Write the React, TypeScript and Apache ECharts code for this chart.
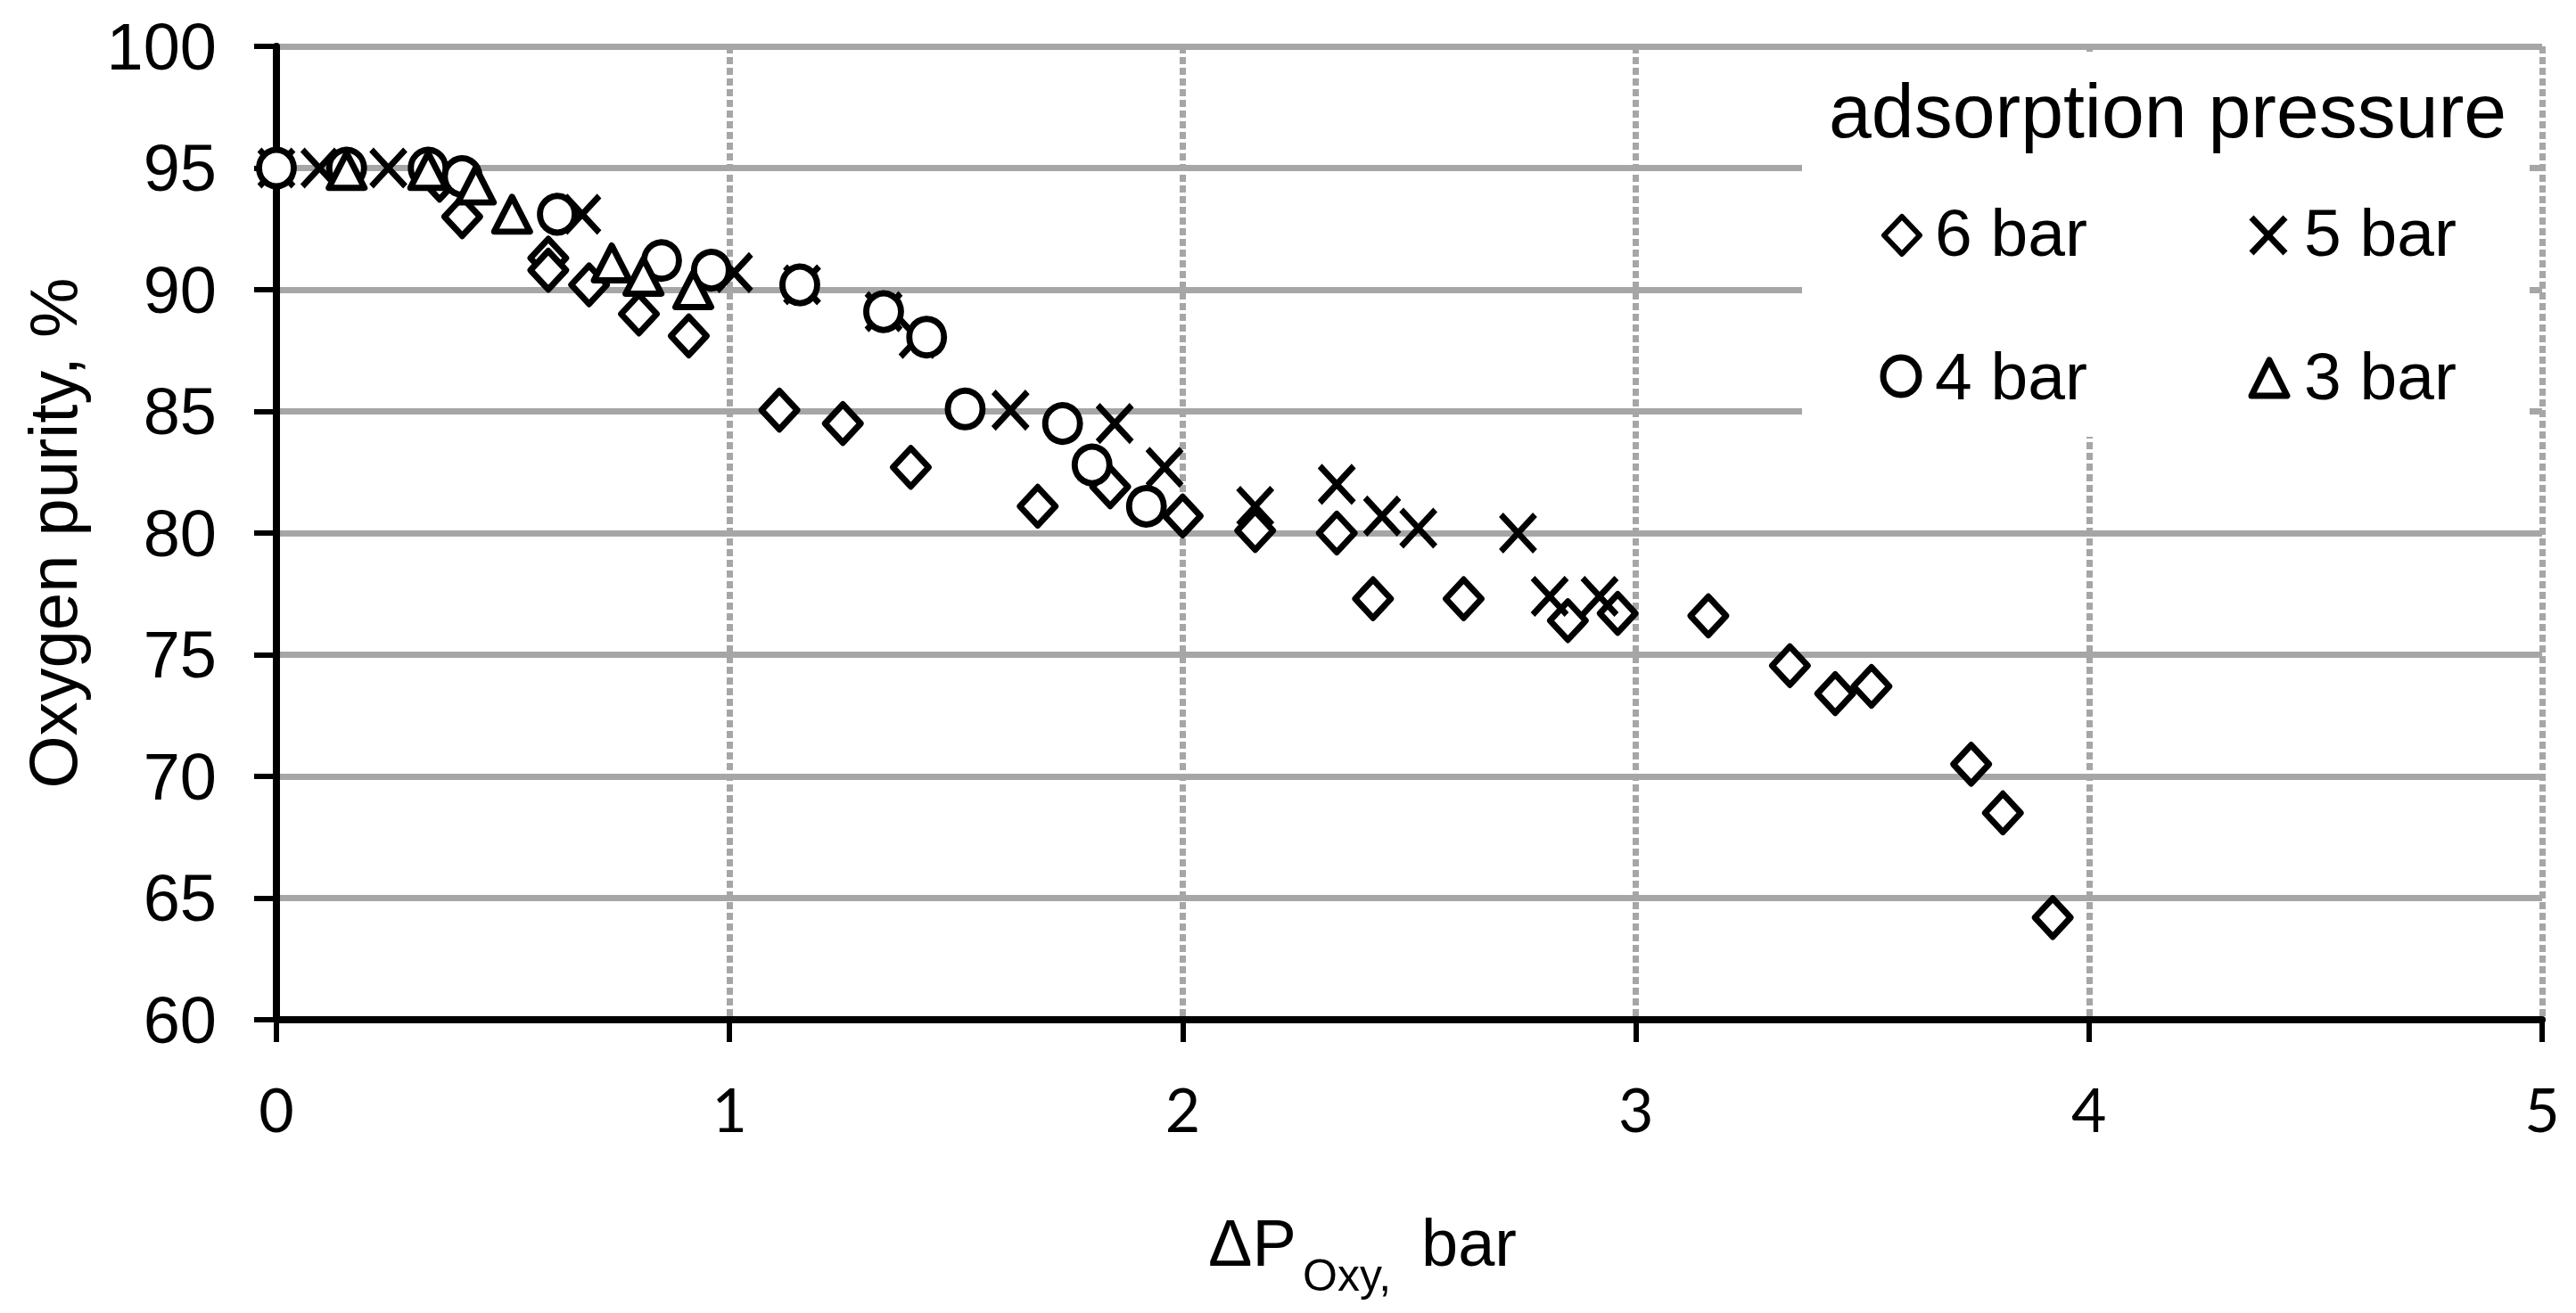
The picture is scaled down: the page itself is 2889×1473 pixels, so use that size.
import React, { useEffect, useRef } from "react";
import * as echarts from "echarts";

// Axis ranges / ticks
const X_MIN = 0;
const X_MAX = 5;
const X_STEP = 1;
const Y_MIN = 60;
const Y_MAX = 100;
const Y_STEP = 5;

// Texts
const Y_TITLE = "Oxygen purity, %";
const X_TITLE_MAIN = "ΔP";
const X_TITLE_SUB = "Oxy,";
const X_TITLE_UNIT = "bar";
const LEGEND_TITLE = "adsorption pressure";
const SERIES_NAMES = ["6 bar", "5 bar", "4 bar", "3 bar"];

// 6 bar (diamonds)
const bar6X = [0.36, 0.41, 0.6, 0.6, 0.69, 0.8, 0.91, 1.11, 1.25, 1.4, 1.68, 1.84, 2.0, 2.16, 2.34, 2.42, 2.62, 2.85, 2.96, 3.16, 3.34, 3.44, 3.52, 3.74, 3.81, 3.92];
const bar6Y = [94.5, 93.0, 91.3, 90.8, 90.2, 89.0, 88.1, 85.05, 84.5, 82.7, 81.1, 81.9, 80.7, 80.1, 80.0, 77.3, 77.3, 76.4, 76.7, 76.6, 74.55, 73.4, 73.7, 70.5, 68.5, 64.2];

// 5 bar (crosses)
const bar5X = [0, 0.095, 0.247, 0.675, 1.01, 1.16, 1.34, 1.415, 1.62, 1.85, 1.96, 2.16, 2.34, 2.44, 2.52, 2.74, 2.81, 2.92];
const bar5Y = [95, 95, 95, 93.1, 90.7, 90.2, 89.1, 88.0, 85.05, 84.5, 82.7, 81.1, 82.0, 80.7, 80.2, 80.0, 77.4, 77.4];

// 4 bar (circles)
const bar4X = [0, 0.155, 0.335, 0.41, 0.62, 0.85, 0.96, 1.155, 1.34, 1.435, 1.52, 1.735, 1.8, 1.92];
const bar4Y = [95, 95, 95, 94.65, 93.1, 91.2, 90.8, 90.2, 89.1, 88.05, 85.1, 84.5, 82.8, 81.1];

// 3 bar (triangles)
const bar3X = [0.155, 0.335, 0.44, 0.52, 0.74, 0.81, 0.92];
const bar3Y = [94.9, 94.9, 94.3, 93.1, 91.1, 90.55, 90.0];

const zip = (xs: number[], ys: number[]) => xs.map((x, i) => [x, ys[i]]);

const FONT = "Liberation Sans";
const STROKE = 7;
const CROSS = "path://M0 0L10 10M10 0L0 10";

const markerStyle = {
  color: "#ffffff",
  borderColor: "#000000",
  borderWidth: STROKE,
  borderJoin: "round" as const,
  opacity: 1,
};

function txt(text: string, x: number, y: number, size: number, extra: any = {}) {
  return {
    type: "text",
    x,
    y,
    z: 20,
    silent: true,
    ...extra,
    style: {
      text,
      fontSize: size,
      fontFamily: FONT,
      fill: "#000000",
      align: extra.align || "left",
      textAlign: extra.align || "left",
      verticalAlign: "middle",
      textVerticalAlign: "middle",
    },
  };
}

export default function App() {
  const ref = useRef<HTMLDivElement>(null);

  useEffect(() => {
    if (!ref.current) return;
    const chart = echarts.init(ref.current, null, { renderer: "svg" });

    const option: any = {
      animation: false,
      backgroundColor: "#ffffff",
      textStyle: { fontFamily: FONT },
      grid: { left: 310, top: 52, width: 2541, height: 1092, containLabel: false },
      xAxis: {
        type: "value",
        min: X_MIN,
        max: X_MAX,
        interval: X_STEP,
        axisLine: { show: true, onZero: false, lineStyle: { color: "#000", width: 8 } },
        axisTick: { show: true, length: 25, lineStyle: { color: "#000", width: 6 } },
        axisLabel: { fontFamily: "Lato", fontSize: 68, color: "#000", margin: 65 },
        splitLine: { show: true, showMinLine: false, lineStyle: { color: "#a6a6a6", width: 7, type: [8, 4] } },
      },
      yAxis: {
        type: "value",
        min: Y_MIN,
        max: Y_MAX,
        interval: Y_STEP,
        axisLine: { show: true, onZero: false, lineStyle: { color: "#000", width: 8 } },
        axisTick: { show: true, length: 25, lineStyle: { color: "#000", width: 6 } },
        axisLabel: { fontFamily: FONT, fontSize: 74, color: "#000", margin: 67 },
        splitLine: { show: true, showMinLine: false, lineStyle: { color: "#a6a6a6", width: 7 } },
      },
      series: [
        {
          name: SERIES_NAMES[0],
          type: "scatter",
          data: zip(bar6X, bar6Y),
          symbol: "diamond",
          symbolSize: [40, 43],
          itemStyle: markerStyle,
          emphasis: { disabled: true },
        },
        {
          name: SERIES_NAMES[1],
          type: "scatter",
          data: zip(bar5X, bar5Y),
          symbol: CROSS,
          symbolSize: [38, 41],
          itemStyle: { color: "rgba(0,0,0,0)", borderColor: "#000", borderWidth: STROKE, opacity: 1 },
          emphasis: { disabled: true },
        },
        {
          name: SERIES_NAMES[2],
          type: "scatter",
          data: zip(bar4X, bar4Y),
          symbol: "circle",
          symbolSize: [39, 41],
          itemStyle: markerStyle,
          emphasis: { disabled: true },
        },
        {
          name: SERIES_NAMES[3],
          type: "scatter",
          data: zip(bar3X, bar3Y),
          symbol: "triangle",
          symbolSize: [40, 39],
          itemStyle: markerStyle,
          emphasis: { disabled: true },
        },
      ],
      graphic: [
        // legend background
        { type: "rect", z: 15, silent: true, shape: { x: 2021, y: 58, width: 816, height: 432 }, style: { fill: "#ffffff" } },
        txt(LEGEND_TITLE, 2051, 123.5, 86),
        // 6 bar icon (diamond)
        {
          type: "polygon", z: 20, silent: true,
          shape: { points: [[2133, 243], [2153, 264], [2133, 285], [2113, 264]] },
          style: { fill: "#fff", stroke: "#000", lineWidth: STROKE - 1, lineJoin: "round" },
        },
        txt(SERIES_NAMES[0], 2170, 261, 75),
        // 5 bar icon (cross)
        { type: "line", z: 20, silent: true, shape: { x1: 2525, y1: 244, x2: 2563, y2: 284 }, style: { stroke: "#000", lineWidth: STROKE } },
        { type: "line", z: 20, silent: true, shape: { x1: 2563, y1: 244, x2: 2525, y2: 284 }, style: { stroke: "#000", lineWidth: STROKE } },
        txt(SERIES_NAMES[1], 2584, 261, 75),
        // 4 bar icon (circle)
        { type: "ellipse", z: 20, silent: true, shape: { cx: 2132, cy: 422, rx: 20, ry: 21 }, style: { fill: "#fff", stroke: "#000", lineWidth: STROKE } },
        txt(SERIES_NAMES[2], 2170, 422, 75),
        // 3 bar icon (triangle)
        {
          type: "polygon", z: 20, silent: true,
          shape: { points: [[2545, 404], [2565, 444], [2525, 444]] },
          style: { fill: "#fff", stroke: "#000", lineWidth: STROKE, lineJoin: "round" },
        },
        txt(SERIES_NAMES[3], 2584, 422, 75),
        // Axis titles
        txt(Y_TITLE, 59, 598, 76, { rotation: Math.PI / 2, align: "center" }),
        txt(X_TITLE_MAIN, 1355, 1394, 74),
        txt(X_TITLE_SUB, 1461, 1431, 50),
        txt(X_TITLE_UNIT, 1594, 1394, 74),
      ],
    };

    chart.setOption(option);
    return () => chart.dispose();
  }, []);

  return (
    <div
      ref={ref}
      style={{ position: "fixed", left: 0, top: 0, width: 2889, height: 1473, background: "#fff" }}
    />
  );
}
